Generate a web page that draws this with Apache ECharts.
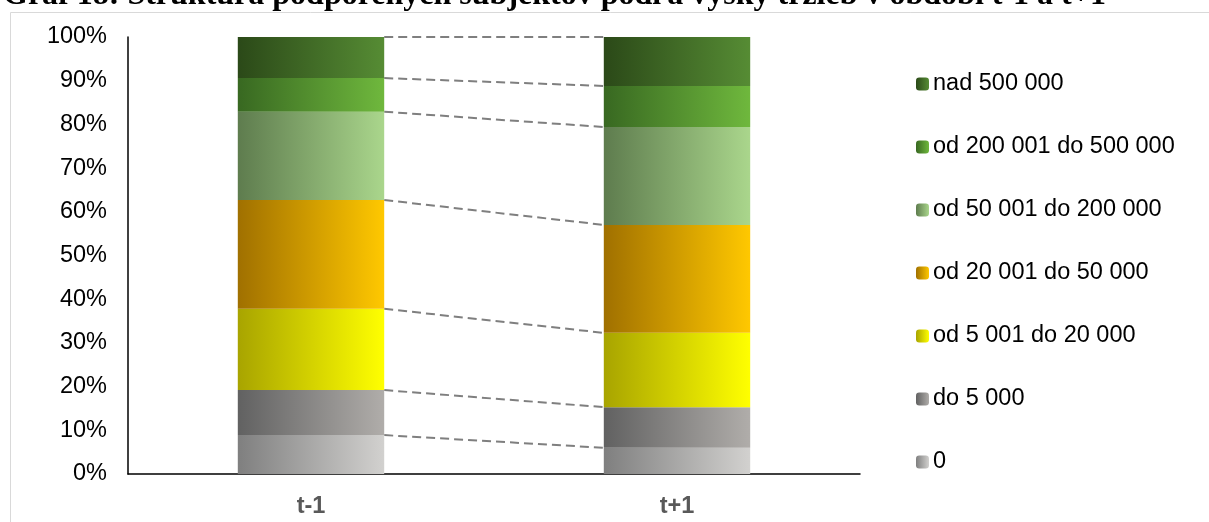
<!DOCTYPE html>
<html><head><meta charset="utf-8">
<script src="https://cdn.jsdelivr.net/npm/echarts@6/dist/echarts.min.js"></script>
<style>html,body{margin:0;padding:0;background:#fff;}#c{width:1209px;height:522px;}</style>
</head><body><div id="c"></div>
<script>
var categories = ['t-1', 't+1'];
var seriesNames = ['0', 'do 5 000', 'od 5 001 do 20 000', 'od 20 001 do 50 000', 'od 50 001 do 200 000', 'od 200 001 do 500 000', 'nad 500 000'];
var s0 = [8.9, 6.0];
var s1 = [10.3, 9.3];
var s2 = [18.6, 17.0];
var s3 = [24.9, 24.7];
var s4 = [20.2, 22.4];
var s5 = [7.7, 9.4];
var s6 = [9.4, 11.2];
var yTicks = [0, 10, 20, 30, 40, 50, 60, 70, 80, 90, 100];
var values = [s0, s1, s2, s3, s4, s5, s6];
var gradients = [
  ['#7f7f7f', '#d2d1cf'],
  ['#616161', '#b0adaa'],
  ['#a8a400', '#ffff00'],
  ['#a07000', '#ffc800'],
  ['#5e7c4e', '#aad68c'],
  ['#386821', '#6fb83d'],
  ['#2b4918', '#568c34']
];
function grad(c){ return new echarts.graphic.LinearGradient(0,0,1,0,[{offset:0,color:c[0]},{offset:1,color:c[1]}]); }

// cumulative boundaries for connector lines
var connData = [];
var c0 = 0, c1 = 0;
for (var i = 0; i < values.length; i++) {
  c0 += values[i][0]; c1 += values[i][1];
  connData.push([0, Math.min(c0,100), Math.min(c1,100)]);
}

var series = values.map(function(v, i){
  return {
    name: seriesNames[i], type: 'bar', stack: 'all', data: v, barWidth: '40%',
    itemStyle: { color: grad(gradients[i]) }
  };
});
series.push({
  type: 'custom', name: 'conn', silent: true, z: 1,
  encode: { x: 0, y: [1, 2] },
  data: connData,
  renderItem: function(params, api){
    var p1 = api.coord([0, api.value(1)]);
    var p2 = api.coord([1, api.value(2)]);
    var half = api.size([1, 0])[0] * 0.2;
    return { type: 'line', shape: { x1: p1[0] + half, y1: p1[1], x2: p2[0] - half, y2: p2[1] },
      style: { stroke: '#7f7f7f', lineWidth: 2, lineDash: [9, 5] } };
  }
});

var chart = echarts.init(document.getElementById('c'));
chart.setOption({
  animation: false,
  title: {
    left: -2, top: -25,
    text: '{a|Graf 18: }{b|Štruktúra podporených subjektov podľa výšky tržieb v období t-1 a t+1}',
    textStyle: { rich: {
      a: { fontFamily: 'Liberation Serif', fontSize: 32, color: '#000' },
      b: { fontFamily: 'Liberation Serif', fontSize: 32, fontWeight: 'bold', color: '#000' }
    } }
  },
  graphic: [{ type: 'rect', silent: true, z: -10, shape: { x: 10.5, y: 12.5, width: 1210, height: 520 },
    style: { fill: 'none', stroke: '#d9d9d9', lineWidth: 1 } }],
  grid: { left: 128, right: 349, top: 37, bottom: 48 },
  legend: {
    orient: 'vertical', left: 911, top: 67, itemWidth: 13, itemHeight: 13, itemGap: 39,
    data: seriesNames.slice().reverse(),
    textStyle: { fontFamily: 'Liberation Sans', fontSize: 23.5, color: '#000', padding: [0,0,0,-1] }
  },
  xAxis: {
    type: 'category', data: categories,
    axisLine: { lineStyle: { color: '#000', width: 1.5 } }, axisTick: { show: false },
    axisLabel: { fontFamily: 'Liberation Sans', fontSize: 23.5, fontWeight: 'bold', color: '#595959', margin: 21 }
  },
  yAxis: {
    type: 'value', min: yTicks[0], max: yTicks[yTicks.length-1], interval: 10,
    splitLine: { show: false },
    axisLine: { show: true, lineStyle: { color: '#000', width: 1.5 } }, axisTick: { show: false },
    axisLabel: { fontFamily: 'Liberation Sans', fontSize: 23.5, color: '#000', margin: 21, formatter: '{value}%' }
  },
  series: series
});
</script></body></html>
